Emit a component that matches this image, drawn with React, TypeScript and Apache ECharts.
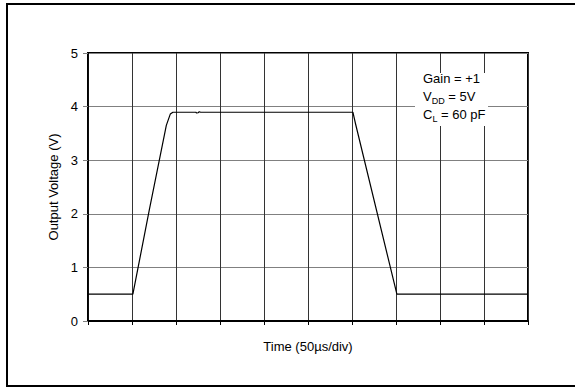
import React, { useEffect, useRef } from "react";
import * as echarts from "echarts";

// Time in divisions (50 µs/div), output voltage in V
const timeDiv = [0, 1.02, 1.4, 1.78, 1.87, 1.93, 2.45, 2.47, 2.5, 2.53, 2.56, 6.02, 6.08, 7.02, 10];
const voltage = [0.5, 0.5, 2.1, 3.65, 3.86, 3.895, 3.895, 3.88, 3.885, 3.905, 3.895, 3.895, 3.68, 0.5, 0.5];
const yTicks = [0, 1, 2, 3, 4, 5];
const xDivisions = 10;
const annotationLines = ["Gain = +1", "V{s|DD} = 5V", "C{s|L} = 60 pF"];

const FONT = "'Liberation Sans', Arial, sans-serif";

export default function App() {
  const ref = useRef<HTMLDivElement>(null);
  useEffect(() => {
    if (!ref.current) return;
    const chart = echarts.init(ref.current, undefined, { renderer: "svg" });
    const data = timeDiv.map((t, i) => [t, voltage[i]]);
    chart.setOption({
      animation: false,
      backgroundColor: "#fff",
      textStyle: { fontFamily: FONT },
      grid: {
        left: 88,
        right: 47,
        top: 53,
        bottom: 66,
        show: true,
        borderColor: "#000",
        borderWidth: 2,
      },
      xAxis: {
        type: "value",
        min: 0,
        max: xDivisions,
        interval: 1,
        name: "Time (50µs/div)",
        nameLocation: "middle",
        nameGap: 19,
        nameTextStyle: { fontSize: 13, color: "#000", fontFamily: FONT },
        axisLine: { show: true, lineStyle: { color: "#000", width: 2 } },
        axisTick: { show: true, length: 4, lineStyle: { color: "#000" } },
        axisLabel: { show: false },
        splitLine: { show: true, lineStyle: { color: "#333", width: 1 } },
      },
      yAxis: {
        type: "value",
        min: yTicks[0],
        max: yTicks[yTicks.length - 1],
        interval: 1,
        name: "Output Voltage (V)",
        nameLocation: "middle",
        nameGap: 27,
        nameTextStyle: { fontSize: 13, color: "#000", fontFamily: FONT },
        axisLine: { show: true, lineStyle: { color: "#000", width: 1.5 } },
        axisTick: { show: true, length: 5, lineStyle: { color: "#808080" } },
        axisLabel: { fontSize: 13, color: "#000", margin: 10, fontFamily: FONT },
        splitLine: { show: true, lineStyle: { color: "#808080", width: 1 } },
      },
      series: [
        {
          type: "line",
          data,
          showSymbol: false,
          lineStyle: { color: "#000", width: 1.2 },
          z: 3,
        },
      ],
      graphic: [
        {
          type: "rect",
          shape: { x: 7, y: 4, width: 700, height: 382 },
          style: { fill: "none", stroke: "#000", lineWidth: 2 },
          z: 0,
          silent: true,
        },
        {
          type: "rect",
          shape: { x: 415, y: 73, width: 73, height: 53 },
          style: { fill: "#fff" },
          z: 10,
        },
        {
          type: "text",
          x: 423,
          y: 69,
          z: 11,
          style: {
            text: annotationLines.join("\n"),
            fill: "#000",
            font: `13px ${FONT}`,
            lineHeight: 18,
            rich: {
              s: { fontSize: 9, lineHeight: 18, verticalAlign: "bottom", fontFamily: FONT, fill: "#000" },
            },
          },
        },
      ],
    });
    return () => chart.dispose();
  }, []);
  return (
    <div
      ref={ref}
      style={{ position: "absolute", left: 0, top: 0, width: 575, height: 387 }}
    />
  );
}
